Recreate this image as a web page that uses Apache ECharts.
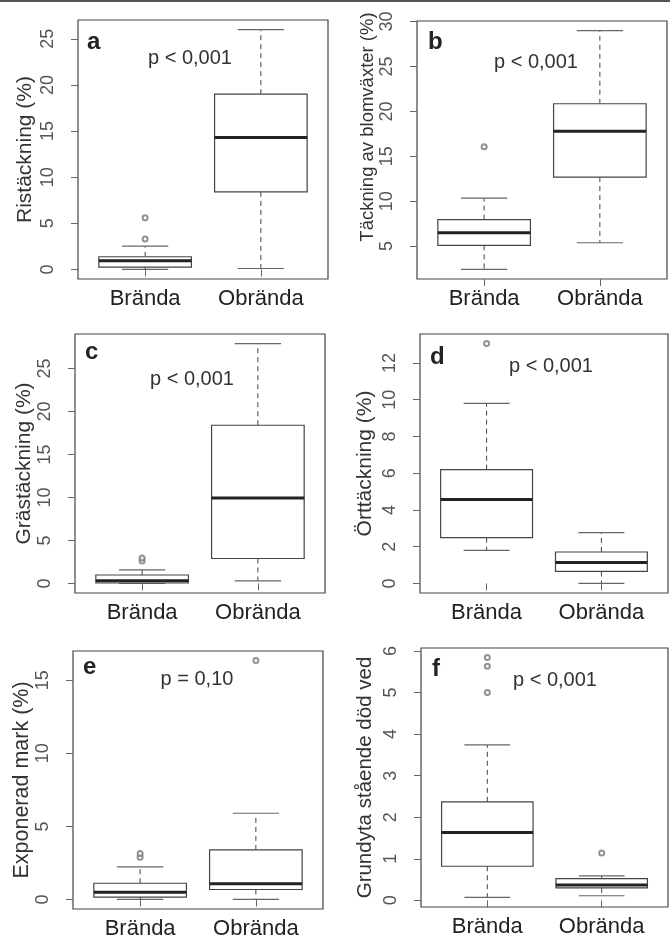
<!DOCTYPE html>
<html>
<head>
<meta charset="utf-8">
<script src="https://cdn.jsdelivr.net/npm/echarts@6/dist/echarts.min.js"></script>
<style>
  html, body { margin: 0; padding: 0; background: #fff; }
  #chart { width: 670px; height: 940px; }
</style>
</head>
<body>
<div id="chart"></div>
<script>
const groups = ['Brända', 'Obrända'];

// per group: [lower whisker, Q1, median, Q3, upper whisker]
const ristackning = [[0, 0.25, 0.95, 1.37, 2.52], [0.1, 8.4, 14.3, 19.0, 26.0]];
const ristackningOut = [[3.3, 5.6], []];
const ristackningTicks = [0, 5, 10, 15, 20, 25];

const blomvaxter = [[2.4, 5.08, 6.48, 7.95, 10.35], [5.37, 12.68, 17.8, 20.85, 29.0]];
const blomvaxterOut = [[16.05], []];
const blomvaxterTicks = [5, 10, 15, 20, 25, 30];

const grastackning = [[0, 0.05, 0.32, 0.98, 1.58], [0.3, 2.9, 9.95, 18.4, 27.9]];
const grastackningOut = [[2.6, 2.95], []];
const grastackningTicks = [0, 5, 10, 15, 20, 25];

const orttackning = [[1.8, 2.49, 4.56, 6.19, 9.8], [0, 0.65, 1.14, 1.71, 2.76]];
const orttackningOut = [[13.05], []];
const orttackningTicks = [0, 2, 4, 6, 8, 10, 12];

const exponerad = [[0, 0.16, 0.5, 1.11, 2.23], [0, 0.68, 1.07, 3.39, 5.9]];
const exponeradOut = [[2.88, 3.15], [16.35]];
const exponeradTicks = [0, 5, 10, 15];

const dodved = [[0.07, 0.82, 1.63, 2.37, 3.74], [0.11, 0.3, 0.37, 0.52, 0.59]];
const dodvedOut = [[5.0, 5.63, 5.84], [1.14]];
const dodvedTicks = [0, 1, 2, 3, 4, 5, 6];

const FONT = '"Liberation Sans", Arial, sans-serif';
const BOX = '#444';

const panels = [
  { stats: ristackning, out: ristackningOut, ticks: ristackningTicks, name: 'Ristäckning (%)', letter: 'a', p: 'p < 0,001',
    grid: { left: 78, top: 20, width: 250, height: 259 }, nameGap: 42, nameSize: 21, namePad: 0, letterAt: [87, 42], pAt: [190, 58.5] },
  { stats: blomvaxter, out: blomvaxterOut, ticks: blomvaxterTicks, name: 'Täckning av blomväxter (%)', letter: 'b', p: 'p < 0,001',
    grid: { left: 417, top: 21, width: 250, height: 258 }, nameGap: 40, nameSize: 18.5, namePad: 46, letterAt: [428, 42], pAt: [536, 62.5] },
  { stats: grastackning, out: grastackningOut, ticks: grastackningTicks, name: 'Grästäckning (%)', letter: 'c', p: 'p < 0,001',
    grid: { left: 75, top: 334, width: 250, height: 259 }, nameGap: 39, nameSize: 21, namePad: 0, letterAt: [85, 352], pAt: [192, 379.5] },
  { stats: orttackning, out: orttackningOut, ticks: orttackningTicks, name: 'Örttäckning (%)', letter: 'd', p: 'p < 0,001',
    grid: { left: 420, top: 334, width: 248, height: 259 }, nameGap: 44, nameSize: 21, namePad: 0, letterAt: [430, 357], pAt: [551, 366] },
  { stats: exponerad, out: exponeradOut, ticks: exponeradTicks, name: 'Exponerad mark (%)', letter: 'e', p: 'p = 0,10',
    grid: { left: 73, top: 651, width: 250, height: 258 }, nameGap: 38, nameSize: 21.5, namePad: 0, letterAt: [83, 667], pAt: [197, 679] },
  { stats: dodved, out: dodvedOut, ticks: dodvedTicks, name: 'Grundyta stående död ved', letter: 'f', p: 'p < 0,001',
    grid: { left: 421, top: 648, width: 247, height: 259 }, nameGap: 45, nameSize: 20.5, namePad: 0, letterAt: [432, 669], pAt: [555, 680] }
];

function renderBox(params, api) {
  const x = api.value(0);
  const lo = api.value(1), q1 = api.value(2), med = api.value(3), q3 = api.value(4), hi = api.value(5);
  const c = (xv, yv) => api.coord([xv, yv]);
  const seg = (a, b, style) => ({ type: 'line', shape: { x1: a[0], y1: a[1], x2: b[0], y2: b[1] }, style });
  const dashed = { stroke: BOX, lineWidth: 1, lineDash: [5, 4] };
  const cap = { stroke: '#666', lineWidth: 1.2 };
  const tl = c(x - 0.4, q3), br = c(x + 0.4, q1);
  return {
    type: 'group',
    children: [
      seg(c(x, q3), c(x, hi), dashed),
      seg(c(x, q1), c(x, lo), dashed),
      seg(c(x - 0.2, hi), c(x + 0.2, hi), cap),
      seg(c(x - 0.2, lo), c(x + 0.2, lo), cap),
      { type: 'rect', shape: { x: tl[0], y: tl[1], width: br[0] - tl[0], height: br[1] - tl[1] },
        style: { fill: '#fff', stroke: BOX, lineWidth: 1.2 } },
      seg(c(x - 0.4, med), c(x + 0.4, med), { stroke: '#222', lineWidth: 3 })
    ]
  };
}

const grid = [], xAxis = [], yAxis = [], series = [], graphic = [];

graphic.push({ type: 'line', shape: { x1: 0, y1: 1, x2: 670, y2: 1 }, style: { stroke: '#555', lineWidth: 2 } });

panels.forEach((pn, i) => {
  const all = pn.stats.flat().concat(pn.out.flat());
  const lo = Math.min(...all), hi = Math.max(...all);
  const pad = (hi - lo) * 0.04;

  grid.push(Object.assign({ show: true, borderColor: BOX, borderWidth: 1.2, backgroundColor: '#fff' }, pn.grid));

  xAxis.push({
    type: 'value', gridIndex: i, min: 0.5 - 0.08, max: groups.length + 0.5 + 0.08,
    axisLine: { show: false },
    splitLine: { show: false },
    axisTick: { show: true, customValues: [1, 2], length: 7, lineStyle: { color: '#666' } },
    axisLabel: { customValues: [1, 2], formatter: v => groups[Math.round(v) - 1], margin: 9,
      fontSize: 22, color: '#222', fontFamily: FONT }
  });

  yAxis.push({
    type: 'value', gridIndex: i, min: lo - pad, max: hi + pad,
    name: pn.name, nameLocation: 'middle', nameGap: pn.nameGap, nameRotate: 90,
    nameTextStyle: { fontSize: pn.nameSize, color: '#333', fontFamily: FONT, padding: [0, 0, 0, pn.namePad] },
    axisLine: { show: false },
    splitLine: { show: false },
    axisTick: { show: true, customValues: pn.ticks, length: 7, lineStyle: { color: '#666' } },
    axisLabel: { customValues: pn.ticks, rotate: 90, margin: 21, fontSize: 18, color: '#555', fontFamily: FONT }
  });

  series.push({
    type: 'custom', xAxisIndex: i, yAxisIndex: i,
    renderItem: renderBox,
    encode: { x: 0, y: [1, 2, 3, 4, 5] },
    data: pn.stats.map((s, k) => [k + 1].concat(s)),
    silent: true, animation: false
  });

  series.push({
    type: 'scatter', xAxisIndex: i, yAxisIndex: i,
    symbol: 'emptyCircle', symbolSize: 5,
    itemStyle: { color: '#777', borderWidth: 1.2 },
    data: pn.out.flatMap((arr, k) => arr.map(v => [k + 1, v])),
    silent: true, animation: false, z: 3
  });

  graphic.push({ type: 'text', x: pn.letterAt[0], y: pn.letterAt[1],
    style: { text: pn.letter, font: 'bold 24px ' + FONT, fill: '#222', textAlign: 'left', textVerticalAlign: 'middle' } });
  graphic.push({ type: 'text', x: pn.pAt[0], y: pn.pAt[1],
    style: { text: pn.p, font: '20px ' + FONT, fill: '#333', textAlign: 'center', textVerticalAlign: 'middle' } });
});

const chart = echarts.init(document.getElementById('chart'));
chart.setOption({
  backgroundColor: '#fff',
  animation: false,
  textStyle: { fontFamily: FONT },
  grid, xAxis, yAxis, series, graphic
});
</script>
</body>
</html>
